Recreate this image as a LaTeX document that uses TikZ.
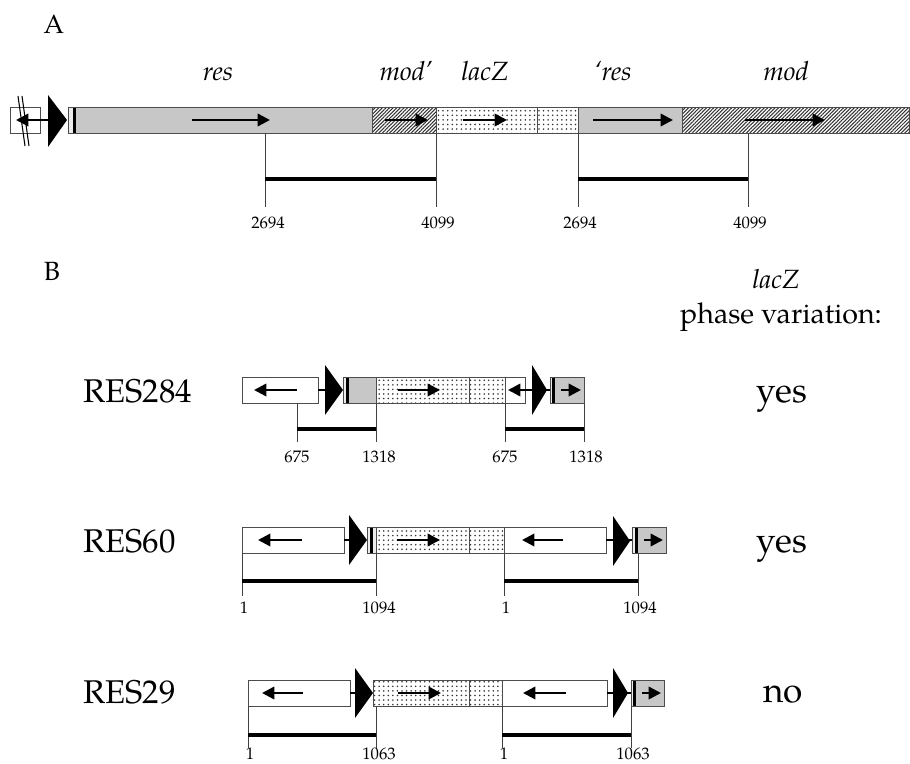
\documentclass[tikz,border=0pt]{standalone}
\usepackage{fontspec}
\setmainfont{TeX Gyre Pagella}
\usetikzlibrary{arrows.meta,patterns.meta}
\begin{document}
\begin{tikzpicture}[x=0.02cm,y=-0.02cm,
  outl/.style={draw=black!70, line width=0.5pt},
  grey/.style={fill=black!22},
  light/.style={fill=black!8},
  hatch/.style={pattern={Lines[angle=45,distance=1.45pt,line width=0.6pt]}, pattern color=black!80},
  dotsp/.style={pattern={Dots[distance=2.6pt,radius=0.5pt]}, pattern color=black!80},
  genearrow/.style={line width=1.4pt, -{Triangle[length=7pt,width=7pt]}},
  link/.style={line width=1.7pt},
  scaletick/.style={draw=black!75, line width=0.5pt},
  scalebar/.style={line width=2.8pt},
  numlab/.style={font=\fontsize{9.5}{10}\selectfont, anchor=base, inner sep=0pt},
  genelab/.style={font=\fontsize{15}{16}\selectfont\itshape, anchor=base, inner sep=0pt},
  panellab/.style={font=\fontsize{15}{16}\selectfont, anchor=base, inner sep=0pt},
  rowlab/.style={font=\fontsize{18.7}{20}\selectfont, anchor=base west, inner sep=0pt},
  anslab/.style={font=\fontsize{20}{22}\selectfont, anchor=base, inner sep=0pt},
  headlab/.style={font=\fontsize{16.3}{18}\selectfont, anchor=base, inner sep=0pt}]
\useasboundingbox (0,0) rectangle (910,764);

% ---------------- Panel A ----------------
\node[panellab] (labA) at (54,33) {A};
\node[genelab] (gres) at (218,80) {res};
\node[genelab] (gmodp) at (406,80) {mod’};
\node[genelab] (glacZ) at (485,80) {lacZ};
\node[genelab] (gresp) at (613,80) {‘res};
\node[genelab] (gmod) at (786,80) {mod};

% left end
\draw[outl, fill=white] (10,107) rectangle (40,133);
\draw[genearrow] (49,120) -- (16,120);
\draw[line width=0.6pt] (18,96) -- (25,146);
\draw[line width=0.6pt] (22,96) -- (29,146);
\fill (48,95) -- (67,120) -- (48,147) -- cycle;

% main bar
\fill[light] (68,107) rectangle (73,133);
\fill (73,107) rectangle (76,133);
\fill[grey] (76,107) rectangle (372,133);
\fill[hatch] (372,107) rectangle (436,133);
\fill[dotsp] (436,107) rectangle (578,133);
\fill[grey] (578,107) rectangle (682,133);
\fill[hatch] (682,107) rectangle (909,133);
\draw[outl] (68,107) rectangle (909,133);
\foreach \xx in {372,436,537,578,682} \draw[outl] (\xx,107) -- (\xx,133);

\draw[genearrow] (192,120) -- (270,120);
\draw[genearrow] (385,120) -- (428,120);
\draw[genearrow] (463,120) -- (507,120);
\draw[genearrow] (593,120) -- (673,120);
\draw[genearrow] (745,120) -- (825,120);

% scale A
\coordinate (a1t) at (265,133); \coordinate (a1b) at (265,207);
\coordinate (a2t) at (436,133); \coordinate (a2b) at (436,207);
\coordinate (a3t) at (578,133); \coordinate (a3b) at (578,207);
\coordinate (a4t) at (748,133); \coordinate (a4b) at (748,207);
\foreach \p in {1,2,3,4} \draw[scaletick] (a\p t) -- (a\p b);
\coordinate (a1m) at (265,179); \coordinate (a2m) at (436,179);
\coordinate (a3m) at (578,179); \coordinate (a4m) at (748,179);
\draw[scalebar] (a1m) -- (a2m);
\draw[scalebar] (a3m) -- (a4m);
\node[numlab] (n1) at (268,228) {2694};
\node[numlab] (n2) at (438,228) {4099};
\node[numlab] (n3) at (580,228) {2694};
\node[numlab] (n4) at (750,228) {4099};

% ---------------- Panel B ----------------
\node[panellab] (labB) at (52,280) {B};
\node[genelab] (hlacZ) at (776,288) {lacZ};
\node[headlab] (hphase) at (781,323) {phase variation:};

% Row RES284
\node[rowlab] (r1) at (83,402) {RES284};
\node[anslab] (y1) at (782,402) {yes};
\draw[outl, fill=white] (242,377) rectangle (318,403);
\draw[genearrow] (297,390) -- (254,390);
\draw[link] (318,390) -- (326,390);
\fill (325,365) -- (343,390) -- (325,415) -- cycle;
\fill[light] (343,377) rectangle (346,403);
\fill (346,377) rectangle (349,403);
\fill[grey] (349,377) rectangle (376,403);
\fill[dotsp] (376,377) rectangle (505,403);
\draw[outl] (343,377) rectangle (505,403);
\foreach \xx in {376,469} \draw[outl] (\xx,377) -- (\xx,403);
\draw[genearrow] (398,390) -- (440,390);
\draw[outl, fill=white] (505,377) rectangle (525,403);
\draw[genearrow] (533,390) -- (508,390);
\fill (532,365) -- (547,390) -- (532,415) -- cycle;
\draw[link] (546,390) -- (551,390);
\fill[light] (550,377) rectangle (552,403);
\fill (552,377) rectangle (555,403);
\fill[grey] (555,377) rectangle (584,403);
\draw[outl] (550,377) rectangle (584,403);
\draw[genearrow] (561,390) -- (581,390);
% scale row 1
\draw[scaletick] (297,403) -- (297,442);
\draw[scaletick] (376,403) -- (376,442);
\draw[scaletick] (505,403) -- (505,442);
\draw[scaletick] (584,403) -- (584,442);
\draw[scalebar] (297,429) -- (376,429);
\draw[scalebar] (505,429) -- (584,429);
\node[numlab] (m1) at (297,462) {675};
\node[numlab] (m2) at (379,462) {1318};
\node[numlab] (m3) at (505,462) {675};
\node[numlab] (m4) at (586,462) {1318};

% Row RES60
\node[rowlab] (r2) at (83,552) {RES60};
\node[anslab] (y2) at (782,552) {yes};
\draw[outl, fill=white] (242,527) rectangle (344,553);
\draw[genearrow] (302,540) -- (258,540);
\draw[link] (344,540) -- (350,540);
\fill (349,515) -- (367,540) -- (349,565) -- cycle;
\fill[light] (367,527) rectangle (370,553);
\fill (370,527) rectangle (373,553);
\fill[light] (373,527) rectangle (376,553);
\fill[dotsp] (376,527) rectangle (504,553);
\draw[outl] (367,527) rectangle (504,553);
\foreach \xx in {376,469} \draw[outl] (\xx,527) -- (\xx,553);
\draw[genearrow] (397,540) -- (440,540);
\draw[outl, fill=white] (504,527) rectangle (606,553);
\draw[genearrow] (563,540) -- (522,540);
\draw[link] (606,540) -- (614,540);
\fill (613,516) -- (630,541) -- (613,566) -- cycle;
\draw[link] (629,540) -- (633,540);
\fill[light] (632,527) rectangle (635,553);
\fill (635,527) rectangle (638,553);
\fill[grey] (638,527) rectangle (666,553);
\draw[outl] (632,527) rectangle (666,553);
\draw[genearrow] (644,540) -- (663,540);
% scale row 2
\draw[scaletick] (242,553) -- (242,596);
\draw[scaletick] (376,553) -- (376,596);
\draw[scaletick] (504,553) -- (504,596);
\draw[scaletick] (638,553) -- (638,596);
\draw[scalebar] (242,581) -- (376,581);
\draw[scalebar] (504,581) -- (638,581);
\node[numlab] (k1) at (244,613) {1};
\node[numlab] (k2) at (379,613) {1094};
\node[numlab] (k3) at (506,613) {1};
\node[numlab] (k4) at (640,613) {1094};

% Row RES29
\node[rowlab] (r3) at (83,703) {RES29};
\node[anslab] (y3) at (783,702) {no};
\draw[outl, fill=white] (248,680) rectangle (350,706);
\draw[genearrow] (303,693) -- (262,693);
\draw[link] (350,693) -- (356,693);
\fill (355,668) -- (373,693) -- (355,718) -- cycle;
\fill[dotsp] (373,680) rectangle (502,706);
\draw[outl] (373,680) rectangle (502,706);
\draw[outl] (469,680) -- (469,706);
\draw[genearrow] (398,693) -- (441,693);
\draw[outl, fill=white] (502,680) rectangle (607,706);
\draw[genearrow] (566,693) -- (523,693);
\draw[link] (607,693) -- (614,693);
\fill (613,668) -- (628,693) -- (613,718) -- cycle;
\draw[link] (627,693) -- (632,693);
\fill[light] (631,680) rectangle (633,706);
\fill (633,680) rectangle (636,706);
\fill[grey] (636,680) rectangle (664,706);
\draw[outl] (631,680) rectangle (664,706);
\draw[genearrow] (642,693) -- (661,693);
% scale row 3
\draw[scaletick] (248,706) -- (248,748);
\draw[scaletick] (376,706) -- (376,748);
\draw[scaletick] (502,706) -- (502,748);
\draw[scaletick] (631,706) -- (631,748);
\draw[scalebar] (248,735) -- (376,735);
\draw[scalebar] (502,735) -- (631,735);
\node[numlab] (j1) at (250,759) {1};
\node[numlab] (j2) at (379,759) {1063};
\node[numlab] (j3) at (504,759) {1};
\node[numlab] (j4) at (633,759) {1063};
\end{tikzpicture}
\end{document}
